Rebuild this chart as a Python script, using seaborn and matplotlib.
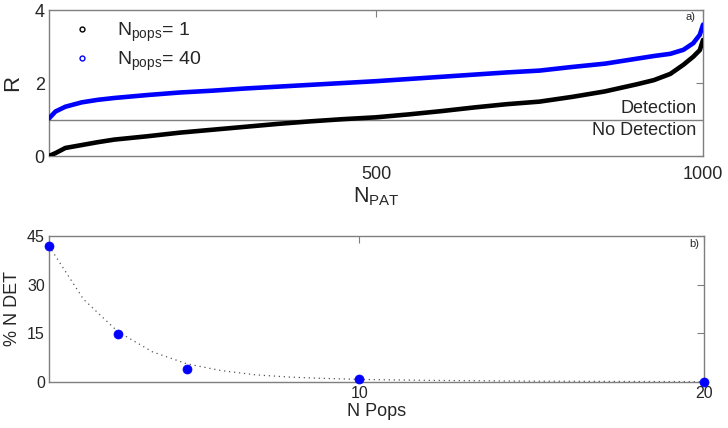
import numpy as np
import pandas as pd
import seaborn as sns
import matplotlib.pyplot as plt
from matplotlib.lines import Line2D

# panel a) sorted R values at these N_PAT positions
n_pat = [0, 10, 25, 50, 75, 100, 150, 200, 250, 300, 350, 400, 450, 500, 550,
         600, 650, 700, 750, 800, 850, 900, 925, 950, 970, 985, 995, 1000]
r_pops1 = [0.0, 0.08, 0.22, 0.30, 0.38, 0.45, 0.54, 0.64, 0.72, 0.80, 0.88, 0.95,
           1.01, 1.06, 1.14, 1.23, 1.33, 1.42, 1.49, 1.62, 1.77, 1.97, 2.08, 2.25,
           2.50, 2.72, 2.90, 3.18]
r_pops40 = [1.03, 1.22, 1.35, 1.47, 1.54, 1.59, 1.67, 1.74, 1.79, 1.85, 1.90, 1.95,
            2.00, 2.05, 2.11, 2.17, 2.23, 2.29, 2.34, 2.44, 2.53, 2.67, 2.74, 2.80,
            2.91, 3.09, 3.32, 3.60]

# panel b) detection percentage vs number of pops
n_pops = [1, 3, 5, 10, 20]
pct_det = [41.9, 14.9, 3.9, 0.9, 0.15]
# dotted fit curve, read at these points
fit_x = [1, 2, 3, 4, 5, 6, 7, 8, 9, 10, 12, 15, 20]
fit_y = [41.9, 25.5, 15.5, 9.3, 5.6, 3.5, 2.2, 1.5, 1.1, 0.8, 0.5, 0.25, 0.1]

sns.set_style("white")
plt.rcParams['font.family'] = ['Liberation Sans', 'DejaVu Sans']
plt.rcParams['mathtext.default'] = 'regular'
plt.rcParams['xtick.direction'] = 'in'
plt.rcParams['ytick.direction'] = 'in'

spine_col = '#7f7f7f'

fig = plt.figure(figsize=(7.28, 4.28), dpi=100)
ax1 = fig.add_axes([0.0673, 0.6355, 0.8984, 0.3411])
ax2 = fig.add_axes([0.0673, 0.1075, 0.8997, 0.3411])

df_a = pd.DataFrame({'N_PAT': n_pat, 'R1': r_pops1, 'R40': r_pops40})
sns.lineplot(data=df_a, x='N_PAT', y='R1', color='black', lw=3.3, ax=ax1, zorder=3)
sns.lineplot(data=df_a, x='N_PAT', y='R40', color='blue', lw=3.3, ax=ax1, zorder=3)
ax1.axhline(1, color=spine_col, lw=1.0, zorder=2)
ax1.set_xlim(0, 1000)
ax1.set_ylim(0, 4)
ax1.set_xticks([500, 1000])
ax1.set_yticks([0, 2, 4])
ax1.tick_params(axis='y', labelsize=13, right=True, length=5, color=spine_col, pad=3)
ax1.tick_params(axis='x', labelsize=13, top=True, length=5, color=spine_col, pad=7)
ax1.set_xlabel('N$_{PAT}$', fontsize=15.5, labelpad=2)
ax1.set_ylabel('R', fontsize=16, labelpad=8)
ax1.text(990, 1.08, 'Detection', ha='right', va='bottom', fontsize=13)
ax1.text(990, 0.93, 'No Detection', ha='right', va='top', fontsize=13)
ax1.text(988, 3.95, 'a)', ha='right', va='top', fontsize=8)

handles = [Line2D([], [], ls='none', marker='o', ms=3.5, mfc='none', mec='black'),
           Line2D([], [], ls='none', marker='o', ms=3.5, mfc='none', mec='blue')]
ax1.legend(handles, ['N$_{pops}$= 1', 'N$_{pops}$= 40'], loc='upper left',
           frameon=False, fontsize=14, handlelength=1.0, handletextpad=1.3,
           borderaxespad=0.3, labelspacing=0.3, bbox_to_anchor=(0.015, 1.02))

df_b = pd.DataFrame({'pops': n_pops, 'pct': pct_det})
df_fit = pd.DataFrame({'x': fit_x, 'y': fit_y})
sns.lineplot(data=df_fit, x='x', y='y', color='#555555', lw=0.9, ls=(0, (1, 3)), ax=ax2)
sns.scatterplot(data=df_b, x='pops', y='pct', color='blue', s=42, edgecolor='blue',
                ax=ax2, zorder=4, clip_on=False)
ax2.set_xlim(1, 20)
ax2.set_ylim(0, 45)
ax2.set_xticks([10, 20])
ax2.set_yticks([0, 15, 30, 45])
ax2.tick_params(labelsize=11.5, top=True, right=True, length=5, color=spine_col, pad=3)
ax2.set_xlabel('N Pops', fontsize=13, labelpad=1)
ax2.set_ylabel('% N DET', fontsize=13, labelpad=4)
ax2.text(19.85, 44, 'b)', ha='right', va='top', fontsize=8)

for ax in (ax1, ax2):
    for sp in ax.spines.values():
        sp.set_color(spine_col)
        sp.set_linewidth(1.0)

fig.savefig('out.png', dpi=100)
